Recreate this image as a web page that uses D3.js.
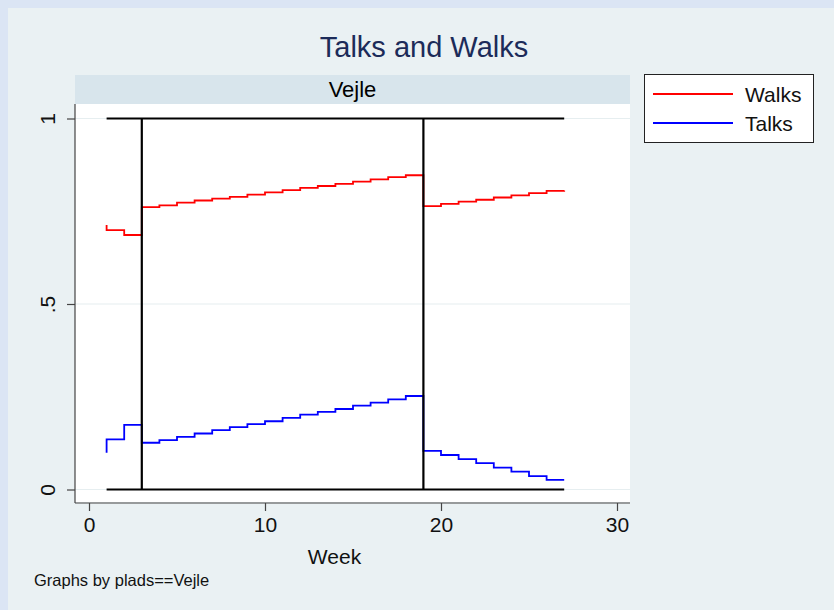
<!DOCTYPE html>
<html>
<head>
<meta charset="utf-8">
<script src="https://cdn.jsdelivr.net/npm/d3@7"></script>
<style>
  html, body { margin: 0; padding: 0; background: #dbe5f4; }
  svg { display: block; }
  text { font-family: "Liberation Sans", Arial, sans-serif; }
</style>
</head>
<body>
<svg id="chart" width="834" height="610"></svg>
<script>
// ---- data ----
const weeks = [1, 1, 2, 3, 4, 5, 6, 7, 8, 9, 10, 11, 12, 13, 14, 15, 16, 17, 18, 19, 20, 21, 22, 23, 24, 25, 26, 27];
const walks = [0.713, 0.699, 0.686, 0.761, 0.766, 0.773, 0.779, 0.784, 0.789, 0.795, 0.801, 0.807, 0.813, 0.818, 0.824, 0.830, 0.836, 0.842, 0.847, 0.764, 0.770, 0.776, 0.781, 0.787, 0.793, 0.799, 0.805, 0.806];
const talks = [0.099, 0.135, 0.174, 0.126, 0.133, 0.142, 0.151, 0.160, 0.168, 0.176, 0.184, 0.193, 0.202, 0.209, 0.217, 0.226, 0.234, 0.243, 0.252, 0.104, 0.093, 0.082, 0.071, 0.059, 0.048, 0.036, 0.026, 0.026];
const seriesNames = ["Walks", "Talks"];
const refWeeks = [3, 19];
const refLevels = [0, 1];
const refSpan = [1, 27];
const xTicks = [0, 10, 20, 30];
const xTickLabels = ["0", "10", "20", "30"];
const yTicks = [0, 0.5, 1];
const yTickLabels = ["0", ".5", "1"];
const titleText = "Talks and Walks";
const stripText = "Vejle";
const xTitle = "Week";
const noteText = "Graphs by plads==Vejle";

// ---- layout ----
const svg = d3.select("#chart");
const colors = { Walks: "#ff0000", Talks: "#0000ff" };
const plot = { left: 75, right: 630, top: 104, bottom: 502 };

// backgrounds
svg.append("rect").attr("x", 0).attr("y", 0).attr("width", 834).attr("height", 610).attr("fill", "#dbe5f4");
svg.append("rect").attr("x", 8).attr("y", 8).attr("width", 826).attr("height", 602).attr("fill", "#eaf1f3");

// title
svg.append("text").attr("x", 424).attr("y", 57).attr("text-anchor", "middle")
  .attr("font-size", 29).attr("fill", "#1c2b59").text(titleText);

// strip
svg.append("rect").attr("x", plot.left).attr("y", 75).attr("width", plot.right - plot.left).attr("height", plot.top - 75)
  .attr("fill", "#d8e5ec");
svg.append("text").attr("x", (plot.left + plot.right) / 2).attr("y", 97).attr("text-anchor", "middle")
  .attr("font-size", 22).attr("fill", "#000").text(stripText);

// plot region
svg.append("rect").attr("x", plot.left).attr("y", plot.top).attr("width", plot.right - plot.left).attr("height", plot.bottom - plot.top)
  .attr("fill", "#ffffff");

const x = d3.scaleLinear().domain([0, 30]).range([89, 617]);
const y = d3.scaleLinear().domain([0, 1]).range([489.5, 118.5]);

// gridlines
svg.append("g").selectAll("line").data(yTicks).join("line")
  .attr("x1", plot.left).attr("x2", plot.right)
  .attr("y1", d => y(d)).attr("y2", d => y(d))
  .attr("stroke", "#e6eef0").attr("stroke-width", 1.2);

// axes
const yAxis = d3.axisLeft(y).tickValues(yTicks).tickSize(8)
  .tickFormat((d, i) => yTickLabels[i]);
const gy = svg.append("g").attr("transform", `translate(${plot.left},0)`).call(yAxis);
gy.select(".domain").remove();
gy.selectAll(".tick line").attr("stroke", "#444").attr("stroke-width", 1.2);
gy.selectAll(".tick text").attr("font-size", 21).attr("fill", "#111")
  .attr("font-family", "Liberation Sans, Arial, sans-serif")
  .attr("transform", "rotate(-90)").attr("text-anchor", "middle")
  .attr("x", 0).attr("y", -20).attr("dy", 0);
svg.append("line").attr("x1", plot.left).attr("x2", plot.left).attr("y1", plot.top).attr("y2", plot.bottom + 1)
  .attr("stroke", "#444").attr("stroke-width", 1.2);

const xAxis = d3.axisBottom(x).tickValues(xTicks).tickSize(8)
  .tickFormat((d, i) => xTickLabels[i]);
const gx = svg.append("g").attr("transform", `translate(0,${plot.bottom + 1})`).call(xAxis);
gx.select(".domain").remove();
gx.selectAll(".tick line").attr("stroke", "#444").attr("stroke-width", 1.2);
gx.selectAll(".tick text").attr("font-size", 21).attr("fill", "#111")
  .attr("font-family", "Liberation Sans, Arial, sans-serif").attr("y", 14);
svg.append("line").attr("x1", plot.left).attr("x2", plot.right).attr("y1", plot.bottom + 1).attr("y2", plot.bottom + 1)
  .attr("stroke", "#444").attr("stroke-width", 1.2);

svg.append("text").attr("x", (plot.left + plot.right) / 2 - 18).attr("y", 564).attr("text-anchor", "middle")
  .attr("font-size", 21).attr("fill", "#111").text(xTitle);

// series
const seriesData = { Walks: walks, Talks: talks };
const line = d3.line().curve(d3.curveStepAfter).x(d => x(d[0])).y(d => y(d[1]));
seriesNames.forEach(name => {
  const pts = weeks.map((w, i) => [w, seriesData[name][i]]);
  svg.append("path").attr("d", line(pts)).attr("fill", "none")
    .attr("stroke", colors[name]).attr("stroke-width", 1.8);
});

// reference lines
svg.append("g").selectAll("line").data(refLevels).join("line")
  .attr("x1", x(refSpan[0])).attr("x2", x(refSpan[1]))
  .attr("y1", d => y(d)).attr("y2", d => y(d))
  .attr("stroke", "#000").attr("stroke-width", 2.2);
svg.append("g").selectAll("line").data(refWeeks).join("line")
  .attr("x1", d => x(d)).attr("x2", d => x(d))
  .attr("y1", y(0)).attr("y2", y(1))
  .attr("stroke", "#000").attr("stroke-width", 2.2);

// legend
const lg = svg.append("g");
lg.append("rect").attr("x", 644.5).attr("y", 74.5).attr("width", 169).attr("height", 68)
  .attr("fill", "#ffffff").attr("stroke", "#222").attr("stroke-width", 1);
seriesNames.forEach((name, i) => {
  const cy = 94 + i * 29;
  lg.append("line").attr("x1", 653).attr("x2", 733).attr("y1", cy).attr("y2", cy)
    .attr("stroke", colors[name]).attr("stroke-width", 1.8);
  lg.append("text").attr("x", 745).attr("y", cy + 7.5).attr("font-size", 21).attr("fill", "#111").text(name);
});

// note
svg.append("text").attr("x", 34).attr("y", 586).attr("font-size", 16.5).attr("fill", "#111").text(noteText);
</script>
</body>
</html>
